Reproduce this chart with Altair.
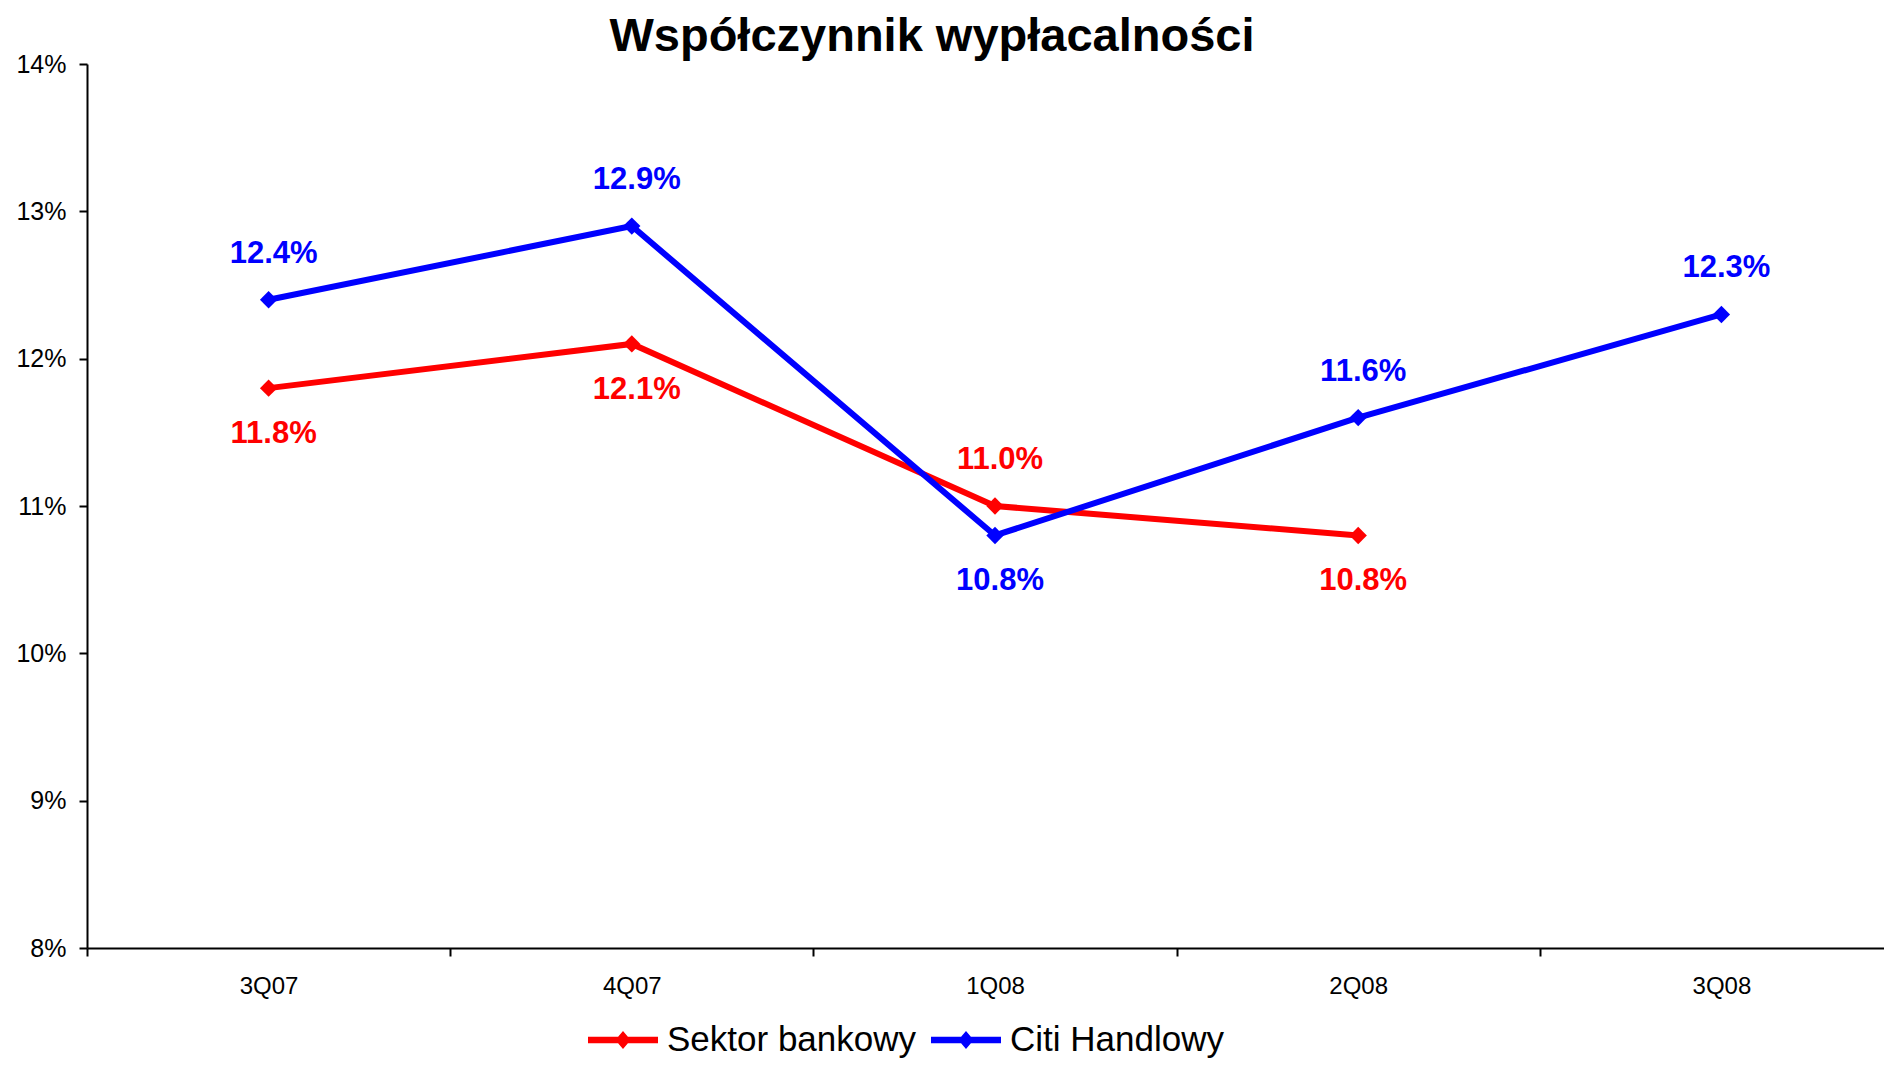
import altair as alt
import pandas as pd

# ---- data ----
quarters = ["3Q07", "4Q07", "1Q08", "2Q08", "3Q08"]
series_names = ["Sektor bankowy", "Citi Handlowy"]
sektor_values = [11.8, 12.1, 11.0, 10.8]
citi_values = [12.4, 12.9, 10.8, 11.6, 12.3]
sektor_label_pos = ["below", "below", "above", "below"]
citi_label_pos = ["above", "above", "below", "above", "above"]
y_ticks = [8, 9, 10, 11, 12, 13, 14]
colors = ["#FF0000", "#0000FF"]
title_text = "Współczynnik wypłacalności"

FONT = "Liberation Sans, Arial, Helvetica, sans-serif"

rows = []
for name, vals, poss in [
    (series_names[0], sektor_values, sektor_label_pos),
    (series_names[1], citi_values, citi_label_pos),
]:
    for q, v, p in zip(quarters, vals, poss):
        rows.append({"quarter": q, "series": name, "value": v,
                     "label": f"{v:.1f}%", "pos": p})
df = pd.DataFrame(rows)

x_enc = alt.X(
    "quarter:N",
    sort=quarters,
    scale=alt.Scale(domain=quarters, range=[0, 1816], paddingInner=0, paddingOuter=0),
    axis=alt.Axis(
        title=None, labelAngle=0, tickBand="extent", grid=False,
        labelFont=FONT, labelFontSize=24, labelColor="black", labelPadding=18,
        tickSize=8, tickWidth=2, tickColor="black",
        domainColor="black", domainWidth=2,
    ),
)
y_enc = alt.Y(
    "value:Q",
    scale=alt.Scale(domain=[8, 14], nice=False, zero=False),
    axis=alt.Axis(
        title=None, values=y_ticks, labelExpr="datum.value + '%'", grid=False,
        labelFont=FONT, labelFontSize=25, labelColor="black", labelPadding=13,
        tickSize=8, tickWidth=2, tickColor="black",
        domainColor="black", domainWidth=2,
    ),
)

base = alt.Chart(df).encode(x=x_enc, y=y_enc)

layers = []
for i, name in enumerate(series_names):
    layers.append(
        base.transform_filter(alt.datum.series == name)
        .mark_line(color=colors[i], strokeWidth=6)
    )

legend_path = ("M-1,-0.09 L-0.14,-0.09 L0,-0.26 L0.14,-0.09 L1,-0.09 "
               "L1,0.09 L0.14,0.09 L0,0.26 L-0.14,0.09 L-1,0.09 Z")

points = base.mark_point(filled=True, shape="diamond", size=300, opacity=1).encode(
    color=alt.Color(
        "series:N",
        scale=alt.Scale(domain=series_names, range=colors),
        legend=alt.Legend(
            title=None, orient="none", legendX=501, legendY=941,
            direction="horizontal", symbolType=legend_path, symbolSize=4900,
            symbolStrokeWidth=0, symbolOpacity=1,
            labelFont=FONT, labelFontSize=35, labelColor="black",
            labelOffset=9, columnPadding=14, labelLimit=0,
        ),
    )
)
layers.append(points)

for i, name in enumerate(series_names):
    for pos, dy in [("above", -46), ("below", 46)]:
        layers.append(
            base.transform_filter((alt.datum.series == name) & (alt.datum.pos == pos))
            .mark_text(color=colors[i], dy=dy, dx=5, font=FONT,
                       fontSize=31, fontWeight="bold")
            .encode(text="label:N")
        )

title_layer = alt.Chart(pd.DataFrame({"title": [title_text]})).mark_text(
    font=FONT, fontSize=47, fontWeight="bold", color="black",
    align="center", baseline="alphabetic",
).encode(text="title:N", x=alt.value(845), y=alt.value(-13))
layers.append(title_layer)

chart = alt.layer(*layers).properties(
    width=1797,
    height=884,
    autosize=alt.AutoSizeParams(type="none"),
    padding={"left": 79, "top": 56, "right": 0, "bottom": 112},
    background="white",
).configure_view(stroke=None)

chart.save("out.html", embed_options={"renderer": "svg", "actions": False})
